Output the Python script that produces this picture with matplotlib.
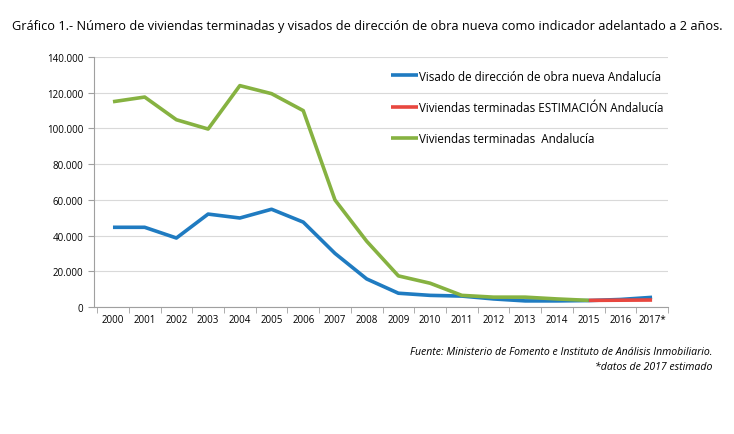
import numpy as np
import matplotlib.pyplot as plt
from matplotlib.ticker import FuncFormatter

years = ['2000', '2001', '2002', '2003', '2004', '2005', '2006', '2007', '2008',
         '2009', '2010', '2011', '2012', '2013', '2014', '2015', '2016', '2017*']

visados = [44600, 44600, 38600, 52000, 49800, 54700, 47500, 30000, 15700,
           7700, 6500, 6100, 4500, 3400, 3400, 3600, 4200, 5400]
estimacion_idx = [15, 16, 17]
estimacion = [3700, 3800, 3900]
terminadas = [114900, 117500, 104800, 99600, 123900, 119400, 109900, 59900, 36800,
              17400, 13300, 6500, 5500, 5500, 4500, 3700]

plt.rcParams['font.family'] = ['Open Sans', 'DejaVu Sans']

fig = plt.figure(figsize=(7.34, 4.35), dpi=100)
ax = fig.add_axes([0.128, 0.292, 0.782, 0.575])

x = np.arange(len(years))
ax.plot(x, visados, color='#1f7bc1', lw=2.6, solid_capstyle='butt',
        label='Visado de dirección de obra nueva Andalucía')
ax.plot(estimacion_idx, estimacion, color='#e8473f', lw=2.6, solid_capstyle='butt',
        label='Viviendas terminadas ESTIMACIÓN Andalucía')
ax.plot(x[:len(terminadas)], terminadas, color='#86b241', lw=2.6, solid_capstyle='butt',
        label='Viviendas terminadas  Andalucía')

ax.set_xlim(-0.6, 17.5)
ax.set_ylim(0, 140000)
ax.set_yticks(np.arange(0, 140001, 20000))
ax.yaxis.set_major_formatter(FuncFormatter(lambda v, p: '0' if v == 0 else f'{int(v):,}'.replace(',', '.')))
ax.set_xticks(x)
ax.set_xticklabels(years)
ax.set_xticks(np.arange(-0.5, 18, 1), minor=True)
ax.tick_params(axis='x', which='major', length=0, labelsize=7, pad=5)
ax.tick_params(axis='x', which='minor', length=4, color='#a0a0a0')
ax.tick_params(axis='y', length=4, color='#a0a0a0', labelsize=7)
ax.grid(axis='y', color='#d9d9d9', lw=0.8)
ax.set_axisbelow(True)
for s in ['top', 'right']:
    ax.spines[s].set_visible(False)
ax.spines['left'].set_color('#a0a0a0')
ax.spines['bottom'].set_color('#a0a0a0')

ax.legend(loc='upper left', bbox_to_anchor=(0.510, 0.968), frameon=False, fontsize=8.4,
          handlelength=2.3, handletextpad=0.1, labelspacing=1.58, borderaxespad=0)

fig.text(0.5, 0.94, 'Gráfico 1.- Número de viviendas terminadas y visados de dirección de obra nueva como indicador adelantado a 2 años.',
         ha='center', va='center', fontsize=9.2)
fig.text(0.97, 0.19, 'Fuente: Ministerio de Fomento e Instituto de Análisis Inmobiliario.',
         ha='right', va='center', fontsize=7.6, style='italic')
fig.text(0.97, 0.155, '*datos de 2017 estimado', ha='right', va='center', fontsize=7.6, style='italic')

fig.savefig('out.png', dpi=100)
